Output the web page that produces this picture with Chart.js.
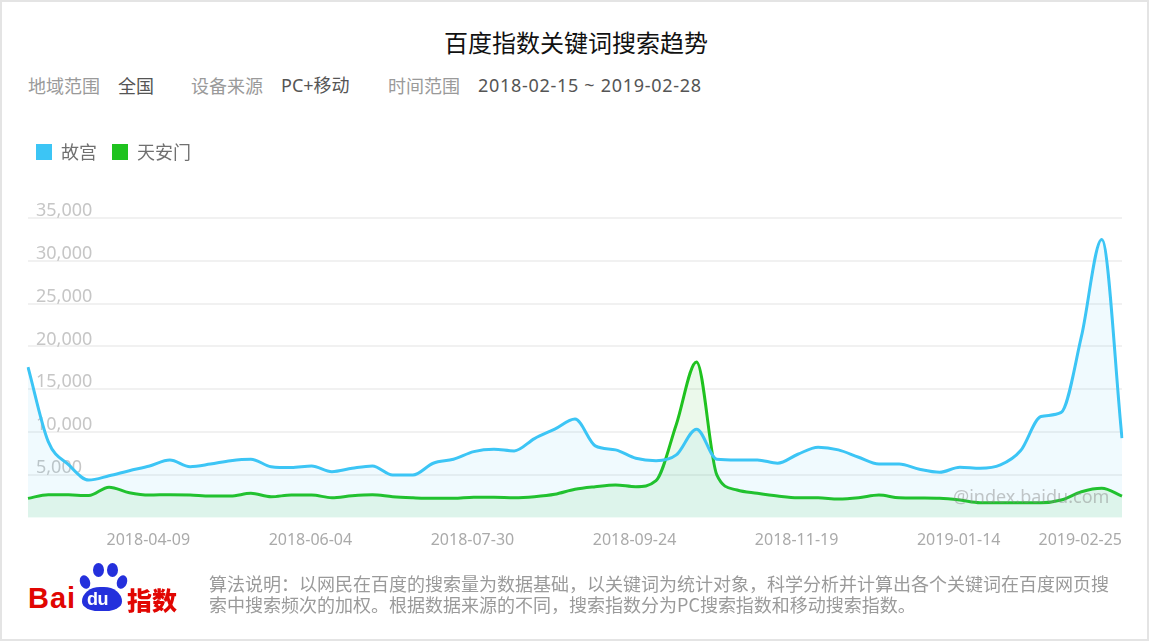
<!DOCTYPE html>
<html><head><meta charset="utf-8">
<script src="https://cdn.jsdelivr.net/npm/chart.js@4.4.0/dist/chart.umd.min.js"></script>
<style>
html,body{margin:0;padding:0;background:#fff;}
body{width:1152px;height:643px;position:relative;overflow:hidden;font-family:"Noto Sans","Noto Sans CJK SC",sans-serif;}
#frame{position:absolute;left:0;top:0;width:1145px;height:637px;border:2px solid #e4e4e4;}
.t{position:absolute;white-space:nowrap;line-height:24px;font-size:18px;}
#title{position:absolute;left:0;width:1152px;text-align:center;top:27px;line-height:30px;font-size:24px;color:#111;font-family:"Noto Sans CJK SC",sans-serif;}
.lab{color:#9a9a9a;font-family:"Noto Sans CJK SC",sans-serif;}
.val{color:#555;}
#chartBox{position:absolute;left:0;top:128px;width:1152px;height:440px;}
#wm{position:absolute;left:953px;top:484px;font-size:18px;color:rgba(130,130,130,0.45);font-family:"Noto Sans",sans-serif;z-index:5;}
#bai{position:absolute;left:28px;top:584px;font:bold 29px/29px "Liberation Sans",Arial,sans-serif;color:#e10602;letter-spacing:1px;}
.toe{position:absolute;background:#2430dc;border-radius:50%;}
#pad{position:absolute;left:82px;top:587px;width:40px;height:24px;background:#2430dc;border-radius:45% 45% 40% 40% / 60% 60% 40% 40%;}
#du{position:absolute;left:87px;top:589px;font:bold 18px/20px "Liberation Sans",Arial,sans-serif;color:#fff;letter-spacing:-0.5px;}
#zs{position:absolute;left:127px;top:585px;font-size:25px;line-height:28px;font-weight:900;color:#e10602;font-family:"Noto Sans CJK SC",sans-serif;}
#desc{position:absolute;left:209px;top:573px;font-size:18px;line-height:21px;color:#9a9a9a;letter-spacing:0px;font-family:"Noto Sans CJK SC",sans-serif;white-space:nowrap;}
</style>
</head><body>
<div id="frame"></div>
<div id="title">百度指数关键词搜索趋势</div>
<div class="t lab" style="left:28px;top:73px;">地域范围</div>
<div class="t val" style="left:118px;top:73px;font-family:'Noto Sans CJK SC',sans-serif;">全国</div>
<div class="t lab" style="left:191px;top:73px;">设备来源</div>
<div class="t val" style="left:281px;top:73px;">PC+移动</div>
<div class="t lab" style="left:388px;top:73px;">时间范围</div>
<div class="t val" style="left:478px;top:73px;letter-spacing:0.7px;">2018-02-15 ~ 2019-02-28</div>
<div id="chartBox"><canvas id="c"></canvas></div>
<div id="wm">@index.baidu.com</div>
<div id="bai">Bai</div>
<div class="toe" style="left:80px;top:575px;width:10px;height:14px;transform:rotate(-20deg);"></div>
<div class="toe" style="left:93px;top:563px;width:11px;height:14px;"></div>
<div class="toe" style="left:107px;top:563px;width:11px;height:14px;"></div>
<div class="toe" style="left:117px;top:575px;width:10px;height:14px;transform:rotate(20deg);"></div>
<div id="pad"></div>
<div id="du">du</div>
<div id="zs">指数</div>
<div id="desc">算法说明：以网民在百度的搜索量为数据基础，以关键词为统计对象，科学分析并计算出各个关键词在百度网页搜<br>索中搜索频次的加权。根据数据来源的不同，搜索指数分为PC搜索指数和移动搜索指数。</div>
<script>
const categories = [
 '2018-02-12','2018-02-19','2018-02-26','2018-03-05','2018-03-12','2018-03-19','2018-03-26','2018-04-02',
 '2018-04-09','2018-04-16','2018-04-23','2018-04-30','2018-05-07','2018-05-14','2018-05-21','2018-05-28',
 '2018-06-04','2018-06-11','2018-06-18','2018-06-25','2018-07-02','2018-07-09','2018-07-16','2018-07-23',
 '2018-07-30','2018-08-06','2018-08-13','2018-08-20','2018-08-27','2018-09-03','2018-09-10','2018-09-17',
 '2018-09-24','2018-10-01','2018-10-08','2018-10-15','2018-10-22','2018-10-29','2018-11-05','2018-11-12',
 '2018-11-19','2018-11-26','2018-12-03','2018-12-10','2018-12-17','2018-12-24','2018-12-31','2019-01-07',
 '2019-01-14','2019-01-21','2019-01-28','2019-02-04','2019-02-11','2019-02-18','2019-02-25'];
const seriesNames = ['故宫','天安门'];
const gugong = [
 17600,8900,6200,4400,4900,5500,6050,6750,
 5970,6270,6670,6840,5970,5860,6050,5390,
 5780,6050,5000,5000,6370,6840,7730,8010,
 7810,9250,10350,11520,8400,7930,6950,6670,
 7340,10350,6840,6760,6760,6370,7420,8240,
 7930,7070,6290,6290,5670,5320,5900,5780,
 6170,7850,11830,12300,21200,32500,9300];
const tiananmen = [
 2270,2700,2680,2600,3580,2930,2660,2700,
 2660,2540,2540,2860,2460,2660,2660,2340,
 2580,2690,2460,2340,2270,2270,2390,2390,
 2340,2460,2740,3330,3630,3830,3630,4330,
 10900,18200,5000,3240,2860,2540,2340,2340,
 2190,2340,2660,2340,2300,2270,2070,1760,
 1760,1760,1760,2070,3040,3440,2540];
const xTickLabels = ['2018-04-09','2018-06-04','2018-07-30','2018-09-24','2018-11-19','2019-01-14','2019-02-25'];
const yMax = 35000, yStep = 5000;
const lineColors = ['#3cc5f5','#1fc21f'];
const fillColors = ['rgba(60,197,245,0.08)','rgba(30,194,30,0.09)'];

const tweak = {
  id:'tweak',
  beforeInit(chart){
    const lg = chart.legend;
    if (lg){ const of = lg.fit; lg.fit = function(){ of.call(this); this.height += 47; }; }
  },
  afterLayout(chart){
    const lg = chart.legend;
    if (lg){ lg.left += 9; lg.right += 9; }
  }
};

new Chart(document.getElementById('c'), {
  type:'line',
  data:{
    labels: categories,
    datasets:[
      {label:seriesNames[0], data:gugong, borderColor:lineColors[0], backgroundColor:fillColors[0], fill:'origin', borderWidth:3, pointRadius:0, cubicInterpolationMode:'monotone'},
      {label:seriesNames[1], data:tiananmen, borderColor:lineColors[1], backgroundColor:fillColors[1], fill:'origin', borderWidth:3, pointRadius:0, cubicInterpolationMode:'monotone'}
    ]
  },
  plugins:[tweak],
  options:{
    responsive:true, maintainAspectRatio:false, animation:false,
    layout:{padding:{left:12,right:30,top:0,bottom:5}},
    plugins:{
      tooltip:{enabled:false},
      legend:{
        display:true, position:'top', align:'start',
        labels:{
          boxWidth:16, boxHeight:16, padding:15, color:'#707070',
          font:{size:18, family:'"Noto Sans CJK SC", sans-serif'},
          generateLabels(chart){
            const items = Chart.defaults.plugins.legend.labels.generateLabels(chart);
            items.forEach((it)=>{ it.fillStyle = lineColors[it.datasetIndex]; it.strokeStyle = lineColors[it.datasetIndex]; it.lineWidth = 0; });
            return items;
          }
        }
      }
    },
    scales:{
      x:{
        grid:{display:false, drawTicks:false}, border:{display:false},
        ticks:{
          autoSkip:false, maxRotation:0, minRotation:0, align:'end', padding:13,
          color:'#aaa', font:{size:16, family:'"Noto Sans", sans-serif'},
          callback:function(v){ const l = this.getLabelForValue(v); return xTickLabels.includes(l) ? l : ''; }
        }
      },
      y:{
        min:0, max:yMax,
        grid:{drawTicks:false, lineWidth:2, color:(ctx)=> (ctx.tick && ctx.tick.value===0) ? 'rgba(0,0,0,0)' : '#f1f1f1'},
        border:{display:false},
        ticks:{
          stepSize:yStep, mirror:true, padding:8, labelOffset:-7,
          color:'#c6c6c6', font:{size:18, family:'"Noto Sans", sans-serif'},
          callback:(v)=> v===0 ? '' : v.toLocaleString('en-US')
        }
      }
    }
  }
});
</script>
</body></html>
